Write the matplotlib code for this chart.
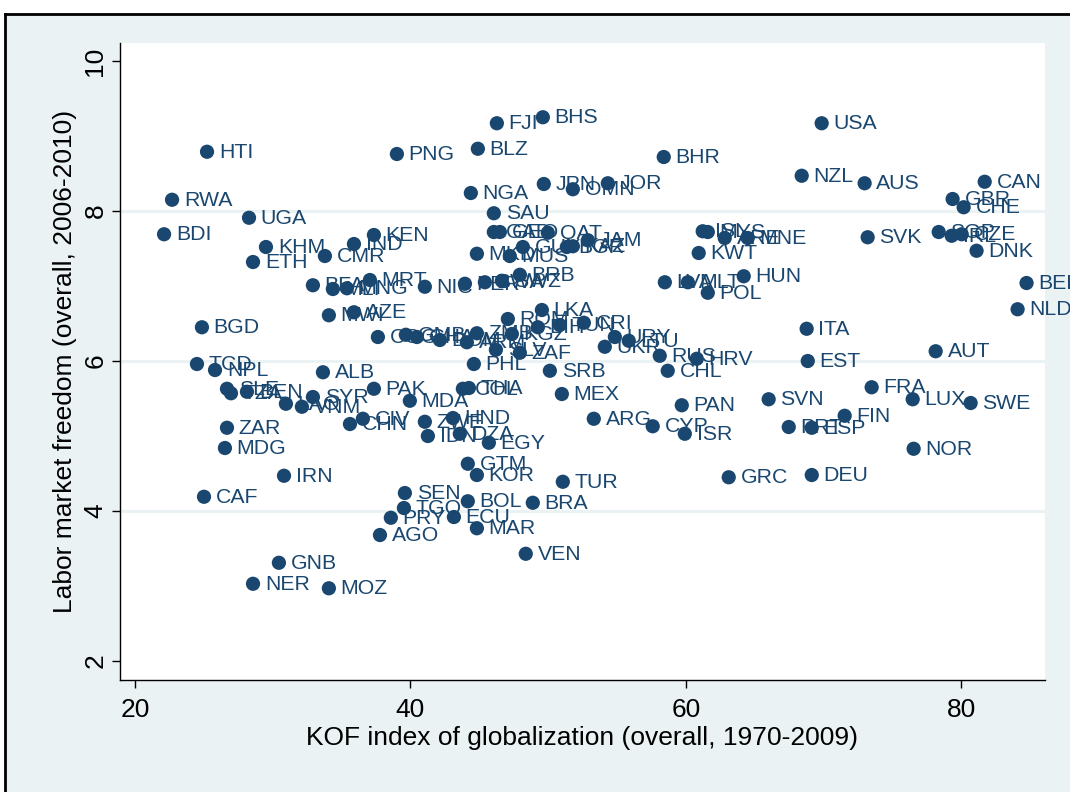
import matplotlib.pyplot as plt
import matplotlib.patches as patches
import numpy as np

# country codes, KOF globalization index and labor market freedom score
codes = [
    'HTI', 'RWA', 'BDI', 'UGA', 'KHM', 'ETH', 'CMR', 'IND', 'KEN', 'PNG',
    'BFA', 'MLI', 'MNG', 'MRT', 'NIC', 'PER', 'BWA', 'SWZ', 'BRB', 'MWI',
    'AZE', 'BGD', 'TCD', 'NPL', 'SLE', 'TZA', 'BEN', 'LAO', 'VNM', 'SYR',
    'ALB', 'PAK', 'MDA', 'CHN', 'CIV', 'ZWE', 'IDN', 'ZAR', 'MDG', 'IRN',
    'CAF', 'GNB', 'NER', 'MOZ', 'SEN', 'TGO', 'PRY', 'AGO', 'BOL', 'BRA',
    'ECU', 'MAR', 'VEN', 'TUR', 'GTM', 'KOR', 'EGY', 'DZA', 'HND', 'ARG',
    'CYP', 'ISR', 'PAN', 'MEX', 'SRB', 'PHL', 'COL', 'THA', 'COG', 'GMB',
    'GHA', 'DOM', 'ARM', 'ZMB', 'SLV', 'ROM', 'KGZ', 'ZAF', 'BIH', 'LKA',
    'TUN', 'CRI', 'UKR', 'URY', 'LTU', 'RUS', 'CHL', 'HRV', 'FJI', 'BHS',
    'BLZ', 'BHR', 'JPN', 'OMN', 'JOR', 'NGA', 'SAU', 'GAB', 'GEO', 'QAT',
    'GUY', 'BGR', 'KAZ', 'JAM', 'MKD', 'MUS', 'USA', 'NZL', 'AUS', 'CAN',
    'GBR', 'CHE', 'SGP', 'IRL', 'CZE', 'DNK', 'SVK', 'ISL', 'MYS', 'ARE',
    'MNE', 'KWT', 'HUN', 'LVA', 'MLT', 'POL', 'BEL', 'NLD', 'ITA', 'EST',
    'AUT', 'FRA', 'LUX', 'SWE', 'SVN', 'FIN', 'PRT', 'ESP', 'NOR', 'GRC',
    'DEU',
]

kof = [
    25.23, 22.69, 22.11, 28.28, 29.51, 28.57, 33.79, 35.90, 37.35, 39.02,
    32.92, 34.37, 35.39, 37.06, 41.05, 43.96, 45.41, 46.64, 47.95, 34.08,
    35.90, 24.86, 24.50, 25.81, 26.68, 26.97, 28.13, 30.96, 32.12, 32.92,
    33.65, 37.35, 39.96, 35.61, 36.55, 41.05, 41.27, 26.68, 26.53, 30.82,
    25.01, 30.45, 28.57, 34.08, 39.60, 39.53, 38.58, 37.79, 44.17, 48.89,
    43.16, 44.83, 48.38, 51.07, 44.17, 44.83, 45.70, 43.59, 43.09, 53.32,
    57.60, 59.93, 59.71, 51.00, 50.13, 44.61, 43.81, 44.25, 37.64, 39.67,
    40.47, 42.14, 44.10, 44.83, 46.21, 47.08, 47.37, 47.95, 49.26, 49.55,
    50.85, 52.60, 54.12, 54.85, 55.86, 58.11, 58.69, 60.80, 46.28, 49.62,
    44.90, 58.40, 49.69, 51.80, 54.34, 44.39, 46.06, 46.06, 46.50, 49.98,
    48.17, 51.36, 51.80, 52.89, 44.83, 47.22, 69.87, 68.42, 72.99, 81.71,
    79.38, 80.18, 78.37, 79.31, 80.04, 81.12, 73.21, 61.23, 61.60, 62.83,
    64.50, 60.94, 64.21, 58.48, 60.15, 61.60, 84.75, 84.10, 68.78, 68.86,
    78.15, 73.50, 76.48, 80.69, 66.02, 71.54, 67.48, 69.15, 76.55, 63.12,
    69.15,
]

labor = [
    8.79, 8.15, 7.69, 7.91, 7.52, 7.32, 7.40, 7.56, 7.68, 8.76,
    7.01, 6.96, 6.97, 7.08, 6.99, 7.03, 7.05, 7.07, 7.15, 6.61,
    6.65, 6.45, 5.96, 5.88, 5.63, 5.57, 5.59, 5.43, 5.39, 5.52,
    5.85, 5.63, 5.47, 5.16, 5.23, 5.19, 5.00, 5.11, 4.84, 4.47,
    4.19, 3.31, 3.03, 2.97, 4.24, 4.04, 3.91, 3.68, 4.13, 4.11,
    3.92, 3.77, 3.43, 4.39, 4.63, 4.48, 4.91, 5.03, 5.24, 5.23,
    5.13, 5.03, 5.41, 5.56, 5.87, 5.96, 5.63, 5.64, 6.32, 6.35,
    6.32, 6.28, 6.25, 6.37, 6.15, 6.56, 6.36, 6.11, 6.45, 6.68,
    6.48, 6.51, 6.19, 6.32, 6.27, 6.07, 5.87, 6.03, 9.17, 9.25,
    8.83, 8.72, 8.36, 8.29, 8.37, 8.24, 7.97, 7.72, 7.72, 7.71,
    7.52, 7.52, 7.53, 7.61, 7.43, 7.40, 9.17, 8.47, 8.37, 8.39,
    8.16, 8.05, 7.72, 7.67, 7.69, 7.47, 7.65, 7.73, 7.72, 7.64,
    7.64, 7.44, 7.13, 7.05, 7.05, 6.91, 7.04, 6.69, 6.43, 6.00,
    6.13, 5.65, 5.49, 5.44, 5.49, 5.27, 5.12, 5.11, 4.83, 4.45,
    4.48,
]

x_ticks = [20, 40, 60, 80]
y_ticks = [2, 4, 6, 8, 10]

NAVY = '#1a476f'
BG = '#eaf2f3'


def draw_scatter():
    plt.rcParams['font.family'] = ['Liberation Sans', 'DejaVu Sans']

    fig = plt.figure(figsize=(10.7, 7.92), dpi=100)
    fig.patch.set_facecolor(BG)

    # white strip on top and the page frame around the graph
    fig.patches.append(patches.Rectangle((0, 1 - 14 / 792), 1, 14 / 792,
                                         transform=fig.transFigure,
                                         facecolor='white', edgecolor='none', zorder=0))
    fig.patches.append(patches.Rectangle((0, 0), 5 / 1070, 1,
                                         transform=fig.transFigure,
                                         facecolor='white', edgecolor='none', zorder=0))
    fig.add_artist(plt.Line2D([5 / 1070, 1], [1 - 14 / 792, 1 - 14 / 792],
                              transform=fig.transFigure, color='black', lw=2))
    fig.add_artist(plt.Line2D([5 / 1070, 5 / 1070], [0, 1 - 14 / 792],
                              transform=fig.transFigure, color='black', lw=2))

    ax = fig.add_axes([120 / 1070, 1 - 680 / 792, 925 / 1070, 637 / 792])
    ax.set_facecolor('white')

    ax.set_xlim(18.91, 86.09)
    ax.set_ylim(1.747, 10.24)

    for y in [4, 6, 8]:
        ax.axhline(y, color=BG, lw=2.2, zorder=1)

    ax.scatter(kof, labor, s=105, color=NAVY, edgecolors='none', zorder=3)
    for code, x, y in zip(codes, kof, labor):
        ax.annotate(code, (x, y), xytext=(8.5, -0.5), textcoords='offset points',
                    va='center', ha='left', fontsize=15.3, color=NAVY, zorder=4)

    ax.spines['top'].set_visible(False)
    ax.spines['right'].set_visible(False)
    for side in ['left', 'bottom']:
        ax.spines[side].set_linewidth(1.0)

    ax.set_xticks(x_ticks)
    ax.set_yticks(y_ticks)
    ax.set_yticklabels([str(t) for t in y_ticks], rotation=90, va='center')
    ax.tick_params(axis='both', length=6, width=1, labelsize=19)
    ax.tick_params(axis='x', pad=7)
    ax.tick_params(axis='y', pad=3)

    ax.set_xlabel('KOF index of globalization (overall, 1970-2009)', fontsize=19, labelpad=3)
    ax.set_ylabel('Labor market freedom (overall, 2006-2010)', fontsize=19, labelpad=5)

    fig.savefig('out.png', dpi=100, facecolor=fig.get_facecolor())


def main():
    print('points: {}'.format(len(codes)))
    draw_scatter()


if __name__ == '__main__': main()
